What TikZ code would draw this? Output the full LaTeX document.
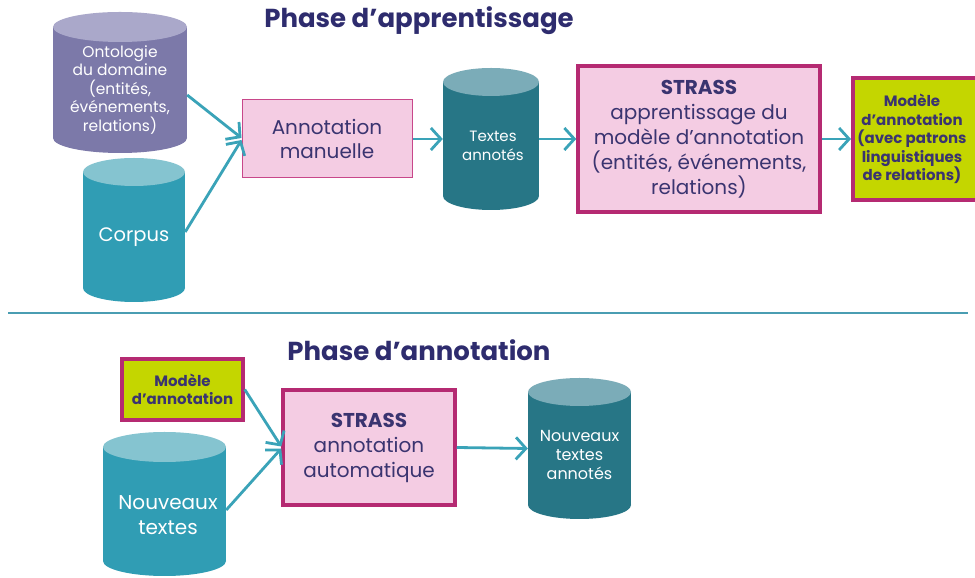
\documentclass[tikz,border=0pt]{standalone}
\usepackage{fontspec}
\setmainfont{Poppins}
\usetikzlibrary{arrows.meta}
\definecolor{navy}{HTML}{2E2C6E}
\definecolor{boxtxt}{HTML}{3A3470}
\definecolor{pinkfill}{HTML}{F4CCE3}
\definecolor{pinkthin}{HTML}{C8478A}
\definecolor{pinkthick}{HTML}{B52A72}
\definecolor{lime}{HTML}{C4D600}
\definecolor{arrowc}{HTML}{3AA3B8}
\definecolor{ontbody}{HTML}{7C79A9}
\definecolor{onttop}{HTML}{AAA8CA}
\definecolor{corpbody}{HTML}{309DB4}
\definecolor{corptop}{HTML}{85C4D0}
\definecolor{darkbody}{HTML}{277686}
\definecolor{darktop}{HTML}{7BACB8}
\definecolor{sepline}{HTML}{4A9DB2}
\tikzset{
  flow/.style={draw=arrowc, line width=2.8pt, -{Straight Barb[length=10pt,width=22pt,line width=2.8pt]}},
  title/.style={font=\fontsize{26}{30}\selectfont\bfseries, text=navy},
  cyltext/.style={text=white, align=center, font=\fontsize{14}{17}\selectfont},
  thinbox/.style={draw=pinkthin, fill=pinkfill, line width=1pt, text=boxtxt, align=center},
  thickbox/.style={draw=pinkthick, fill=pinkfill, line width=3.5pt, text=boxtxt, align=center},
  limebox/.style={draw=pinkthick, fill=lime, line width=3.5pt, text=boxtxt, align=center, font=\fontsize{15}{18.5}\selectfont\bfseries},
  limetext/.style={text=boxtxt, align=center, font=\fontsize{15}{18.5}\selectfont\bfseries},
}
% \cylshape{x1}{x2}{ytopcenter}{ybotcenter}{ry}{body}{top}
\newcommand{\cylshape}[7]{%
  \fill[#6] (#1,#3) rectangle (#2,#4);
  \fill[#6] ({(#1+#2)/2},#4) ellipse ({(#2-#1)/2} and #5);
  \fill[#7] ({(#1+#2)/2},#3) ellipse ({(#2-#1)/2} and #5);
}
\begin{document}
\begin{tikzpicture}[x=1pt,y=1pt]
\useasboundingbox (0,0) rectangle (975,578);
\fill[white] (0,0) rectangle (975,578);

% titles
\node[title] (t1) at (419,557) {Phase d’apprentissage};
\node[title] (t2) at (419,228) {Phase d’annotation};

% separator
\draw[sepline, line width=1.2pt] (8,265) -- (968,265);

% cylinders
\cylshape{53}{187}{551}{440}{15}{ontbody}{onttop}
\node[minimum width=134pt, minimum height=141pt] (ont) at (120,495) {};
\node[cyltext, font=\fontsize{15.5}{18.5}\selectfont] (ontt) at (120,488) {Ontologie\\du domaine\\(entités,\\événements,\\relations)};

\cylshape{83}{185}{406}{290}{14}{corpbody}{corptop}
\node[minimum width=102pt, minimum height=144pt] (corp) at (134,348) {};
\node[cyltext, font=\fontsize{19.5}{23}\selectfont] (corpt) at (134,341) {Corpus};

\cylshape{443}{539}{496}{382}{14}{darkbody}{darktop}
\node[minimum width=96pt, minimum height=142pt] (txt) at (491,439) {};
\node[cyltext, font=\fontsize{15}{19}\selectfont] (txtt) at (493,432) {Textes\\annotés};

\cylshape{103}{226}{131}{17}{15}{corpbody}{corptop}
\node[minimum width=123pt, minimum height=146pt] (nt) at (164.5,74) {};
\node[cyltext, font=\fontsize{20}{25}\selectfont] (ntt) at (168,63) {Nouveaux\\textes};

\cylshape{528}{631}{186}{73}{14}{darkbody}{darktop}
\node[minimum width=103pt, minimum height=141pt] (nta) at (579.5,129.5) {};
\node[cyltext, font=\fontsize{16}{19}\selectfont] (ntat) at (579.5,123) {Nouveaux\\textes\\annotés};

% boxes
\node[thinbox, minimum width=170pt, minimum height=78pt, font=\fontsize{20}{24}\selectfont] (am) at (327,439) {Annotation\\manuelle};
\node[thickbox, minimum width=242pt, minimum height=146pt, font=\fontsize{20}{25}\selectfont] (s1) at (699,439) {{\bfseries STRASS}\\apprentissage du\\modèle d’annotation\\(entités, événements,\\relations)};
\node[limebox, minimum width=134pt, minimum height=122pt, anchor=west] (m1) at (851,439) {};
\node[limetext] (m1t) at (912,439) {Modèle\\d’annotation\\(avec patrons\\linguistiques\\de relations)};
\node[limebox, minimum width=121pt, minimum height=61pt] (m2) at (182.5,188.5) {Modèle\\d’annotation};
\node[thickbox, minimum width=172pt, minimum height=115pt, font=\fontsize{20}{25}\selectfont] (s2) at (369,130.5) {{\bfseries STRASS}\\annotation\\automatique};

% arrows
\draw[flow] ([yshift=-12pt]ont.east) -- ([yshift=1pt]am.west);
\draw[flow] ([yshift=-2pt]corp.east) -- ([yshift=-1pt]am.west);
\draw[flow] (am.east) -- (txt.west);
\draw[flow] (txt.east) -- (s1.west);
\draw[flow] (s1.east) -- (m1.west);
\draw[flow] (m2.east) -- ([yshift=1pt]s2.west);
\draw[flow] ([yshift=-6pt]nt.east) -- ([yshift=-1pt]s2.west);
\draw[flow] (s2.east) -- (nta.west);
\end{tikzpicture}
\end{document}
